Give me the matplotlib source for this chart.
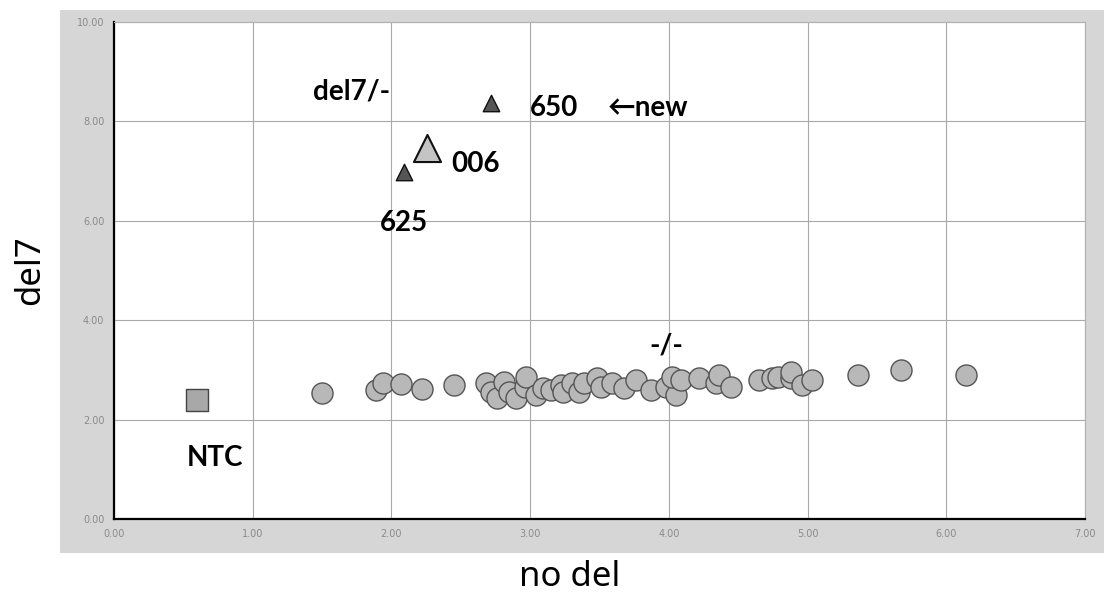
import matplotlib
matplotlib.use("Agg")
from matplotlib import pyplot as plt
from matplotlib.patches import Rectangle

# -/- samples (circles)
neg_x = [1.50, 1.89, 1.94, 2.07, 2.22, 2.45, 2.68, 2.72, 2.76, 2.81, 2.85, 2.90,
         2.96, 2.97, 3.04, 3.09, 3.15, 3.22, 3.24, 3.30, 3.35, 3.39, 3.48, 3.51,
         3.59, 3.68, 3.76, 3.87, 3.98, 4.05, 4.02, 4.09, 4.22, 4.34, 4.36, 4.45,
         4.65, 4.74, 4.79, 4.88, 4.88, 4.96, 5.03, 5.36, 5.67, 6.14]
neg_y = [2.54, 2.60, 2.74, 2.72, 2.62, 2.70, 2.74, 2.56, 2.43, 2.76, 2.56, 2.43,
         2.66, 2.86, 2.49, 2.64, 2.60, 2.70, 2.56, 2.74, 2.56, 2.74, 2.84, 2.66,
         2.74, 2.64, 2.80, 2.60, 2.66, 2.49, 2.86, 2.80, 2.84, 2.74, 2.90, 2.66,
         2.80, 2.84, 2.86, 2.84, 2.96, 2.70, 2.80, 2.90, 3.00, 2.90]

# del7/- samples (dark triangles)
del_x = [2.09, 2.72]
del_y = [6.98, 8.37]
del_names = ["625", "650"]

# control 006 (light triangle)
ctrl_x = [2.26]
ctrl_y = [7.46]

# no template control (square)
ntc_x = [0.60]
ntc_y = [2.39]

xticks = [0, 1, 2, 3, 4, 5, 6, 7]
yticks = [0, 2, 4, 6, 8, 10]

fig = plt.figure(figsize=(11.04, 5.96), dpi=100)
fig.add_artist(Rectangle((60/1104, 1-553/596), 1.0, 543/596,
                         transform=fig.transFigure, facecolor="#d6d6d6",
                         edgecolor="none", zorder=-5))
ax = fig.add_axes([114/1104, 1-519/596, 971/1104, 497/596])
ax.set_zorder(2)
ax.set_facecolor("white")

ax.scatter(neg_x, neg_y, s=230, c="#b8b8b8", edgecolors="#555555", linewidths=1.0, zorder=3)
ax.scatter(del_x, del_y, s=140, marker="^", c="#555555", edgecolors="#111111", linewidths=1.0, zorder=3)
ax.scatter(ctrl_x, ctrl_y, s=380, marker="^", c="#c4c4c4", edgecolors="#111111", linewidths=1.5, zorder=3)
ax.scatter(ntc_x, ntc_y, s=240, marker="s", c="#a8a8a8", edgecolors="#444444", linewidths=1.0, zorder=3)

fam = ["Lato", "DejaVu Sans"]
fs = 20
ax.text(1.71, 8.6, "del7/-", fontsize=fs, fontweight="bold", family=fam, ha="center", va="center")
ax.text(3.0, 8.27, "650", fontsize=fs, fontweight="bold", family=fam, ha="left", va="center")
ax.text(3.56, 8.27, "\u2190new", fontsize=fs, fontweight="bold", family=fam, ha="left", va="center")
ax.text(2.43, 7.15, "006", fontsize=fs, fontweight="bold", family=fam, ha="left", va="center")
ax.text(2.09, 5.95, "625", fontsize=fs, fontweight="bold", family=fam, ha="center", va="center")
ax.text(0.73, 1.22, "NTC", fontsize=fs, fontweight="bold", family=fam, ha="center", va="center")
ax.text(3.98, 3.49, "-/-", fontsize=fs, fontweight="bold", family=fam, ha="center", va="center")

ax.set_xlim(0, 7)
ax.set_ylim(0, 10)
ax.set_xticks(xticks)
ax.set_yticks(yticks)
ax.set_xticklabels(["%.2f" % v for v in xticks])
ax.set_yticklabels(["%.2f" % v for v in yticks])
ax.tick_params(length=0, labelsize=7, labelcolor="#8a8a8a", pad=7)
ax.grid(True, color="#a8a8a8", linewidth=0.8)
ax.set_axisbelow(True)
for side in ["top", "right"]:
    ax.spines[side].set_color("#b0b0b0")
for side in ["left", "bottom"]:
    ax.spines[side].set_color("black")
    ax.spines[side].set_linewidth(1.6)

lab_fam = ["Noto Sans", "DejaVu Sans"]
fig.text(30/1104, 1-270/596, "del7", rotation=90, fontsize=25, family=lab_fam, ha="center", va="center")
fig.text(570/1104, 1-577/596, "no del", fontsize=25, family=lab_fam, ha="center", va="center")

fig.savefig("out.png", dpi=100)
